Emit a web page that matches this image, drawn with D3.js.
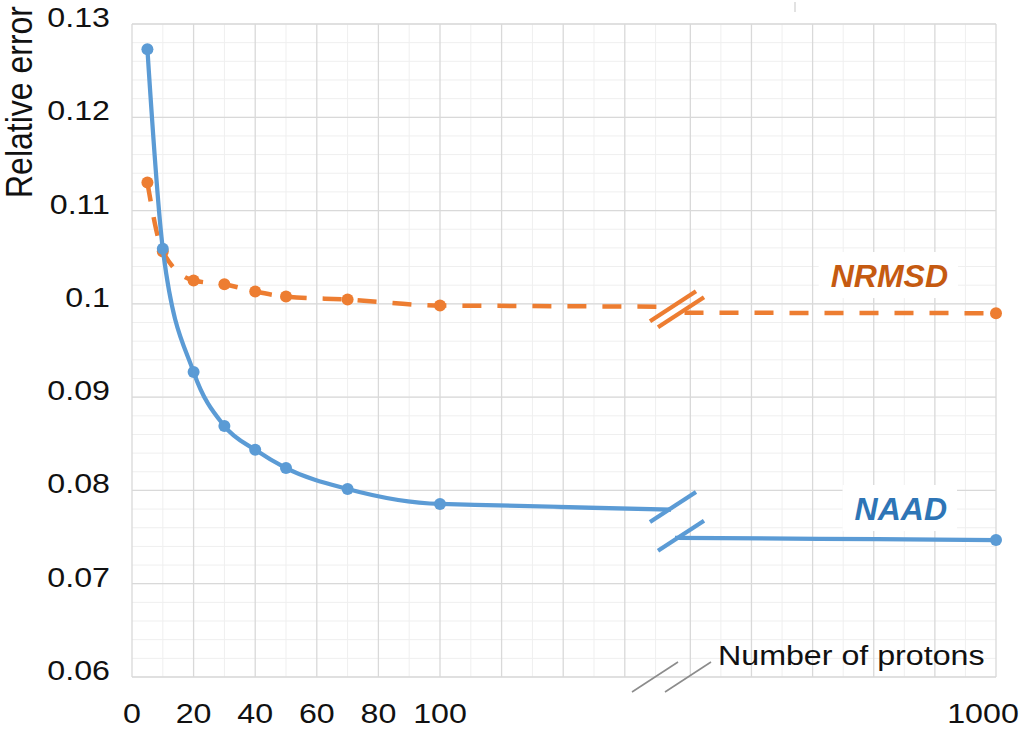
<!DOCTYPE html>
<html>
<head>
<meta charset="utf-8">
<script src="https://cdn.jsdelivr.net/npm/d3@7"></script>
<style>
  body { margin: 0; background: #fff; }
  text { font-family: "Liberation Sans", Arial, sans-serif; fill: #111; }
</style>
</head>
<body>
<script>
'use strict';

// data
const protons = [5, 10, 20, 30, 40, 50, 70, 100, 1000];
const naad = [0.1273, 0.1059, 0.0927, 0.0869, 0.08435, 0.0824, 0.08016, 0.07855, 0.07468];
const nrmsd = [0.1130, 0.1056, 0.1025, 0.1021, 0.10132, 0.10078, 0.10046, 0.09982, 0.0990];

const yTicks = [0.06, 0.07, 0.08, 0.09, 0.1, 0.11, 0.12, 0.13];
const yTickLabels = ["0.06", "0.07", "0.08", "0.09", "0.1", "0.11", "0.12", "0.13"];
const xTicksLeft = [0, 20, 40, 60, 80, 100];
const xTicksRight = [1000];

const W = 1023, H = 729;
const stretch = 1.15; // text in the picture is drawn a little wide

const svg = d3.select('body').append('svg')
  .attr('width', W)
  .attr('height', H);

// broken x axis: two panels that share the same units per pixel
const breakLeft = 175, breakRight = 894;
const xLeft = d3.scaleLinear().domain([0, breakLeft]).range([132, 671]);
const xRight = d3.scaleLinear().domain([breakRight, 1000]).range([672, 996]);
const y = d3.scaleLinear().domain([0.06, 0.13]).range([677, 24]);

const plotLeft = xLeft(0), plotRight = xRight(1000);

// ---- grid ----
const grid = svg.append('g');

// horizontal minor lines
const yMinor = d3.range(0.06, 0.1301, 0.002);
grid.selectAll('line.hminor')
  .data(yMinor)
  .enter().append('line')
    .attr('x1', plotLeft).attr('x2', plotRight)
    .attr('y1', d => y(d)).attr('y2', d => y(d))
    .attr('stroke', '#efefef').attr('stroke-width', 1);

function vGrid(scale, lo, hi) {
  const vals = d3.range(lo, hi + 0.1, 10);
  grid.selectAll(null)
    .data(vals)
    .enter().append('line')
      .attr('x1', d => scale(d)).attr('x2', d => scale(d))
      .attr('y1', y(0.06)).attr('y2', y(0.13))
      .attr('stroke', d => (d % 20 === 0) ? '#d9d9d9' : '#efefef')
      .attr('stroke-width', d => (d % 20 === 0) ? 1.3 : 1);
}
vGrid(xLeft, 0, 170);
vGrid(xRight, 900, 1000);

grid.selectAll('line.hmajor')
  .data(yTicks)
  .enter().append('line')
    .attr('x1', plotLeft).attr('x2', plotRight)
    .attr('y1', d => y(d)).attr('y2', d => y(d))
    .attr('stroke', '#d9d9d9').attr('stroke-width', 1.3);

// stray tick above the plot
svg.append('line')
  .attr('x1', 795).attr('x2', 795).attr('y1', 2).attr('y2', 12)
  .attr('stroke', '#cfcfcf').attr('stroke-width', 1.2);

// ---- clip paths for the two panels ----
const defs = svg.append('defs');
defs.append('clipPath').attr('id', 'clipL')
  .append('rect').attr('x', 0).attr('y', 0).attr('width', xLeft(breakLeft)).attr('height', H);
defs.append('clipPath').attr('id', 'clipR')
  .append('rect').attr('x', xRight(breakRight) + 3).attr('y', 0).attr('width', W).attr('height', H);

const blue = '#5B9BD5', orange = '#ED7D31';

const series = [
  { name: 'NRMSD', values: nrmsd, color: orange, dash: '19,16', width: 4.5 },
  { name: 'NAAD', values: naad, color: blue, dash: null, width: 4.25 }
];

function drawPanel(xs, clipId) {
  const g = svg.append('g').attr('clip-path', 'url(#' + clipId + ')');
  series.forEach(s => {
    const pts = protons.map((p, i) => [p, s.values[i]]);
    const line = d3.line()
      .x(d => xs(d[0]))
      .y(d => y(d[1]))
      .curve(d3.curveMonotoneX);
    g.append('path')
      .datum(pts)
      .attr('fill', 'none')
      .attr('stroke', s.color)
      .attr('stroke-width', s.width)
      .attr('stroke-dasharray', s.dash)
      .attr('d', line);
    g.selectAll(null)
      .data(pts)
      .enter().append('circle')
        .attr('cx', d => xs(d[0]))
        .attr('cy', d => y(d[1]))
        .attr('r', 6)
        .attr('fill', s.color);
  });
}
drawPanel(xLeft, 'clipL');
drawPanel(xRight, 'clipR');

// ---- break marks ----
function breakMark(cx, cy, color, width) {
  svg.append('line')
    .attr('x1', cx - 23).attr('y1', cy + 15)
    .attr('x2', cx + 23).attr('y2', cy - 15)
    .attr('stroke', color)
    .attr('stroke-width', width);
}

// value of a series where the axis is cut (straight between the last two points)
function valueAt(vals, p) {
  const n = protons.length;
  const t = (p - protons[n - 2]) / (protons[n - 1] - protons[n - 2]);
  return vals[n - 2] + t * (vals[n - 1] - vals[n - 2]);
}

series.forEach(s => {
  breakMark(xLeft(breakLeft) + 2, y(valueAt(s.values, breakLeft)), s.color, 4.25);
  breakMark(xRight(breakRight) + 9, y(valueAt(s.values, breakRight)), s.color, 4.25);
});
breakMark(xLeft(breakLeft) - 16, y(0.06), '#8c8c8c', 1.6);
breakMark(xRight(breakRight) + 16, y(0.06), '#8c8c8c', 1.6);

// ---- axis labels ----
function wideText(x, yy, txt, anchor, size) {
  return svg.append('text')
    .attr('transform', 'translate(' + x + ',' + yy + ') scale(' + stretch + ',1)')
    .attr('text-anchor', anchor)
    .style('font-size', size + 'px')
    .text(txt);
}

yTicks.forEach((v, i) => wideText(110, y(v) + 3, yTickLabels[i], 'end', 28));
xTicksLeft.forEach(v => wideText(xLeft(v), 723, String(v), 'middle', 28));
xTicksRight.forEach(v => wideText(xRight(v) - 13, 723, String(v), 'middle', 28));

wideText(718, 665, 'Number of protons', 'start', 28);

svg.append('text')
  .attr('transform', 'translate(32,102) scale(' + stretch + ',1) rotate(-90)')
  .attr('text-anchor', 'middle')
  .style('font-size', '32px')
  .text('Relative error');

// ---- series labels on white boxes ----
function seriesLabel(txt, x, yy, color) {
  const g = svg.append('g');
  const t = g.append('text')
    .attr('x', x).attr('y', yy)
    .attr('text-anchor', 'end')
    .style('font-size', '32px')
    .style('font-weight', 'bold')
    .style('font-style', 'italic')
    .style('fill', color)
    .text(txt);
  const b = t.node().getBBox();
  g.insert('rect', 'text')
    .attr('x', b.x - 12).attr('y', b.y - 6)
    .attr('width', b.width + 22).attr('height', b.height + 10)
    .attr('fill', '#fff');
}
seriesLabel('NRMSD', 948, 287, '#C55A11');
seriesLabel('NAAD', 947, 520, '#2E75B6');
</script>
</body>
</html>
